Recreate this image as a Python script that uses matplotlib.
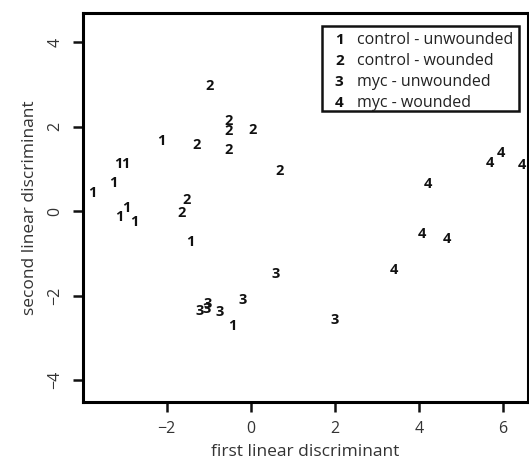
import numpy as np
import matplotlib
matplotlib.use("Agg")
import matplotlib.pyplot as plt
from matplotlib.patches import Rectangle

plt.rcParams['font.family'] = ['Open Sans', 'DejaVu Sans']

# LDA scores, one list per group
g1_x = [-2.14, -3.15, -2.99, -3.28, -3.76, -3.13, -2.95, -2.78, -1.43, -0.44]
g1_y = [1.66, 1.12, 1.12, 0.67, 0.43, -0.14, 0.07, -0.25, -0.72, -2.72]
g2_x = [-0.97, -0.53, -0.53, 0.05, -1.29, -0.53, -1.52, -1.64, 0.68]
g2_y = [2.97, 2.15, 1.89, 1.93, 1.58, 1.44, 0.27, -0.05, 0.96]
g3_x = [-1.03, -1.06, -1.22, -0.75, -0.20, 0.58, 2.00]
g3_y = [-2.20, -2.32, -2.36, -2.38, -2.10, -1.49, -2.58]
g4_x = [5.69, 5.94, 6.44, 4.22, 4.06, 4.67, 3.41]
g4_y = [1.15, 1.39, 1.10, 0.64, -0.55, -0.65, -1.40]

groups = ['control - unwounded', 'control - wounded', 'myc - unwounded', 'myc - wounded']
xs = [g1_x, g2_x, g3_x, g4_x]
ys = [g1_y, g2_y, g3_y, g4_y]

fig = plt.figure(figsize=(5.29, 4.63), dpi=100)
ax = fig.add_axes([0.157, 0.132, 0.841, 0.840])

for k in range(4):
    for x, y in zip(xs[k], ys[k]):
        ax.text(x, y, str(k + 1), ha='center', va='center',
                fontsize=10.5, fontweight='bold', color='#111111')

ax.set_xlim(-3.99, 6.59)
ax.set_ylim(-4.52, 4.70)
ax.set_xticks([-2, 0, 2, 4, 6])
ax.set_yticks([-4, -2, 0, 2, 4])
ax.set_xticklabels(['\u22122', '0', '2', '4', '6'])
ax.set_yticklabels(['\u22124', '\u22122', '0', '2', '4'], rotation=90, va='center')
ax.tick_params(length=7, width=1.8, labelsize=11.5, pad=7, colors='#111111')
ax.tick_params(axis='both', labelcolor='#333333')
for s in ax.spines.values():
    s.set_linewidth(2.2)

ax.set_xlabel('first linear discriminant', fontsize=12.5, color='#333333', labelpad=5)
ax.set_ylabel('second linear discriminant', fontsize=12.5, color='#333333', labelpad=7)

# legend box
ax.add_patch(Rectangle((0.537, 0.747), 0.443, 0.22, transform=ax.transAxes,
                       fill=False, lw=1.8, color='#111111'))
for i, name in enumerate(groups):
    yy = 0.93 - i * 0.0535
    ax.text(0.576, yy, str(i + 1), transform=ax.transAxes, ha='center', va='center',
            fontsize=11, fontweight='bold', color='#111111')
    ax.text(0.616, yy, name, transform=ax.transAxes, ha='left', va='center',
            fontsize=11.5, color='#222222')

fig.savefig('out.png', dpi=100)
